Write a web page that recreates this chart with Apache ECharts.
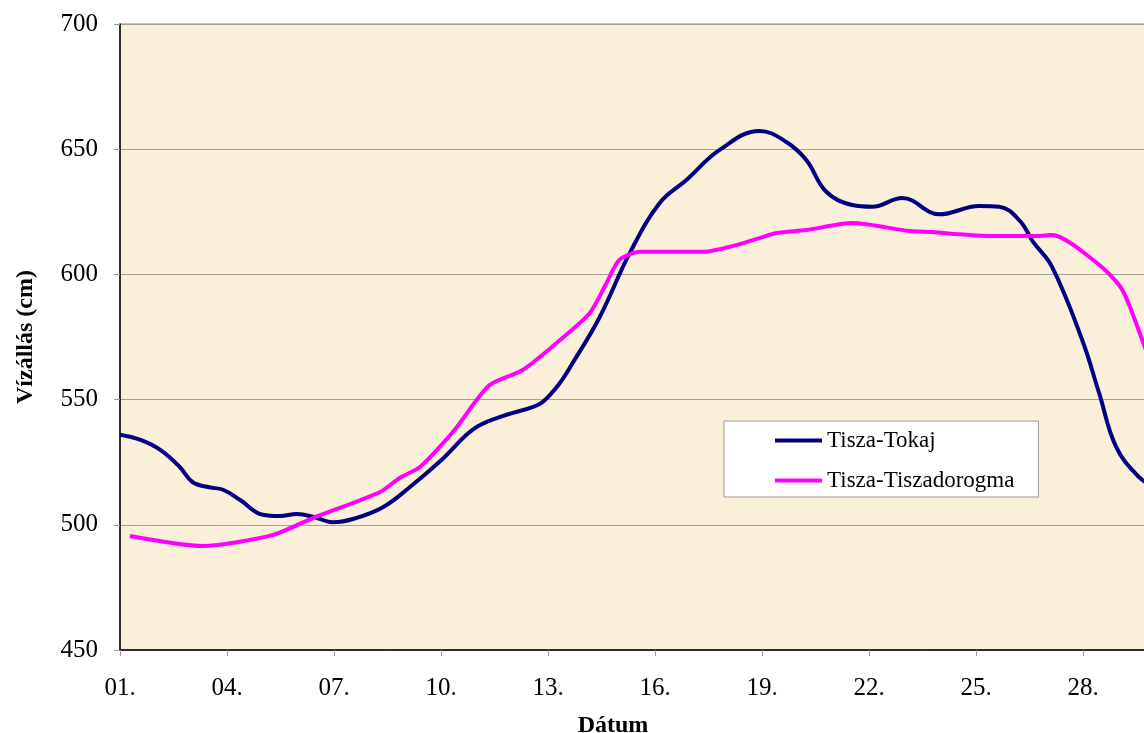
<!DOCTYPE html>
<html>
<head>
<meta charset="utf-8">
<script src="https://cdn.jsdelivr.net/npm/echarts@6/dist/echarts.min.js"></script>
<style>
html,body{margin:0;padding:0;background:#fff;overflow:hidden;width:1144px;height:733px;}
#c{width:1210px;height:733px;}
</style>
</head>
<body>
<div id="c"></div>
<script>
// day offsets (0 = 01.)
const tokajDays = [0,0.56,1.12,1.68,2.04,2.5,2.89,3.36,4.0,4.48,4.96,5.46,5.97,6.58,7.37,8.12,9.02,9.89,10.64,11.57,11.85,12.3,12.69,13.45,14.29,15.13,15.88,16.81,17.93,18.68,19.24,19.8,20.53,21.09,21.93,22.97,24.09,24.65,25.21,25.6,26.13,26.97,27.45,27.93,28.57,29.0];
const tokajValues = [536,534,530,523,517,515,514,510,504,503.5,504.3,503,501,502.5,507,515,526,538,543,547,549,556,564.6,583,608.5,628.5,637.7,649.7,657.3,652.9,645.7,633,627.7,627,630.5,624,627.3,627,621.7,613,603,574,552.6,531,519,515];
const dorogmaDays = [0.28,2.32,4.29,5.41,7.28,7.84,8.4,9.02,9.44,10.36,11.29,12.24,13.17,13.64,14.0,14.57,16.33,17.28,17.93,18.4,19.24,20.53,22.13,22.77,23.53,24.45,25.69,26.13,27.45,28.1,28.66,29.0];
const dorogmaValues = [495.5,491.5,496,502.7,513,518.7,523,532,539,555.8,561.8,572.6,584.6,596.6,605.8,609,609,611.7,614.5,616.5,617.7,620.5,617.3,616.9,616,615.3,615.3,615.7,603.8,593.8,573.8,560];
const seriesNames = ['Tisza-Tokaj','Tisza-Tiszadorogma'];
const yTicks = [450,500,550,600,650,700];

const pair = (xs, ys) => xs.map((x,i)=>[x, ys[i]]);
const font = '"Liberation Serif","Times New Roman",serif';

const chart = echarts.init(document.getElementById('c'), null, {renderer:'canvas'});
chart.setOption({
  animation:false,
  textStyle:{fontFamily:font, color:'#000'},
  grid:{left:120, top:24, width:30*35.67, height:626, show:true,
        backgroundColor:'#FAEFD8', borderColor:'#8a8a8a', borderWidth:1},
  title:[
    {text:'Dátum', left:608, top:709, textAlign:'center',
     textStyle:{fontFamily:font, fontWeight:'bold', fontSize:24, color:'#000'}},
  ],
  graphic:[
    {type:'text', x:26, y:337, rotation:Math.PI/2, style:{text:'Vízállás (cm)', font:'bold 24px '+font, fill:'#000', textAlign:'center', textVerticalAlign:'middle'}}
  ],
  legend:{
    orient:'vertical', left:724, top:421,
    backgroundColor:'#fff', borderColor:'#9a9a9a', borderWidth:1,
    padding:[8,24,5,51], itemGap:17, itemWidth:47, itemHeight:20,
    icon:'path://M0,0 L47,0 L47,4 L0,4 Z', symbolKeepAspect:true,
    textStyle:{fontFamily:font, fontSize:23, color:'#000', lineHeight:20},
    data:seriesNames
  },
  xAxis:{
    type:'value', min:0, max:30, interval:3,
    axisLine:{show:true, lineStyle:{color:'#000', width:1.5}},
    axisTick:{show:true, length:6, lineStyle:{color:'#999'}},
    splitLine:{show:false},
    axisLabel:{fontFamily:font, fontSize:25, color:'#000', margin:26,
      formatter:v=>String(Math.round(v)+1).padStart(2,'0')+'.'}
  },
  yAxis:{
    type:'value', min:yTicks[0], max:yTicks[yTicks.length-1], interval:50,
    axisLine:{show:true, lineStyle:{color:'#000', width:1.5}},
    axisTick:{show:true, length:6, lineStyle:{color:'#999'}},
    splitLine:{show:true, lineStyle:{color:'#A8A196', width:1}},
    axisLabel:{fontFamily:font, fontSize:25, color:'#000', margin:22}
  },
  series:[
    {name:seriesNames[0], type:'line', data:pair(tokajDays,tokajValues), smooth:0.4,
     symbol:'none', lineStyle:{color:'#000080', width:4}, itemStyle:{color:'#000080'}},
    {name:seriesNames[1], type:'line', data:pair(dorogmaDays,dorogmaValues), smooth:0.25,
     symbol:'none', lineStyle:{color:'#FF00FF', width:4}, itemStyle:{color:'#FF00FF'}}
  ]
});
</script>
</body>
</html>
